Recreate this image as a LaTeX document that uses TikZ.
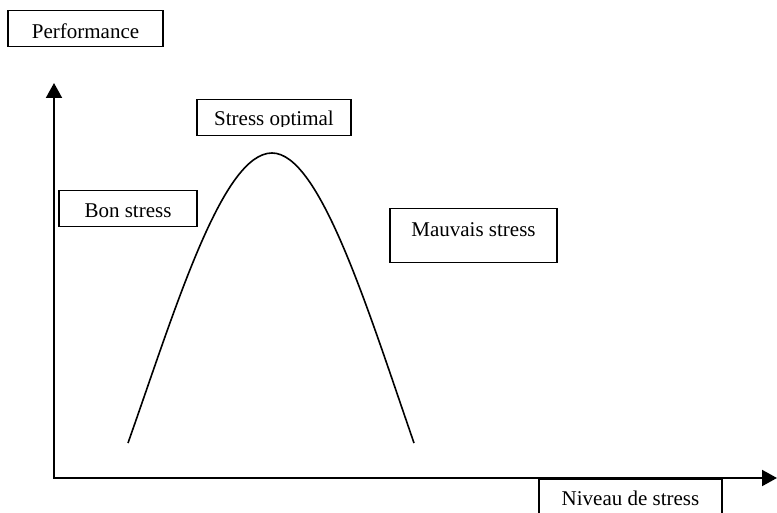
\documentclass[tikz,border=0pt]{standalone}
\usepackage{fontspec}
\setmainfont{Liberation Serif}
\usetikzlibrary{arrows.meta}

\begin{document}
\begin{tikzpicture}[x=1pt,y=-1pt]
\tikzstyle{every node}+=[inner sep=0pt]
\tikzstyle{label box}=[draw=black, line width=1.5pt, font=\fontsize{21}{25}\selectfont, anchor=north]
\tikzstyle{axis}=[black, line width=2pt, {Triangle[length=15pt,width=16pt]}-{Triangle[length=15pt,width=16pt]}]
\clip (0,0) rectangle (777,513);
\node [label box, minimum width=155pt, text height=28pt, text depth=8pt] (perf) at (85.5,10) {Performance};
\node [label box, minimum width=138pt, text height=27pt, text depth=9pt] (bon) at (128,190) {Bon stress};
\node [label box, minimum width=167pt, text height=28pt, text depth=26pt] (mauvais) at (473.5,208) {Mauvais stress};
\node [label box, minimum width=183pt, text height=27pt, text depth=20pt] (niveau) at (630.5,478) {Niveau de stress};
\node [label box, minimum width=154pt, minimum height=36pt] (optimal) at (274,99) {};
\begin{scope}
\clip (197,99) rectangle (351,127);
\node [font=\fontsize{21}{25}\selectfont, anchor=base] (optimal text) at (274,126) {Stress optimal};
\end{scope}
\coordinate (ytip) at (54,83);
\coordinate (origin) at (54,478);
\coordinate (xtip) at (777,478);
\draw [axis] (ytip) -- (origin) -- (xtip);
\coordinate (left end) at (128,443);
\coordinate (peak) at (272,153);
\coordinate (right end) at (414,443);
\draw [black, line width=1.6pt] (left end) .. controls (175,310) and (222,153) .. (peak) .. controls (320,153) and (368,310) .. (right end);
\end{tikzpicture}
\end{document}
